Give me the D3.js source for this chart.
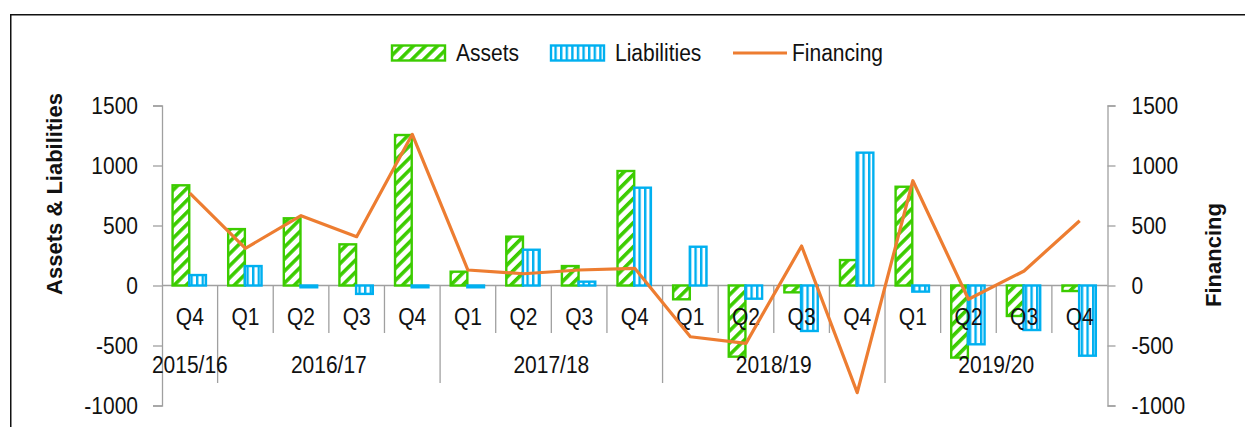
<!DOCTYPE html>
<html>
<head>
<meta charset="utf-8">
<script src="https://cdn.jsdelivr.net/npm/d3@7"></script>
<style>
  html, body { margin: 0; padding: 0; background: #fff; }
  svg { display: block; font-family: "Liberation Sans", Arial, sans-serif; }
</style>
</head>
<body>
<svg id="chart" width="1245" height="427"></svg>
<script>
// ---- data ----
const quarters = ["Q4","Q1","Q2","Q3","Q4","Q1","Q2","Q3","Q4","Q1","Q2","Q3","Q4","Q1","Q2","Q3","Q4"];
const years = ["2015/16","2016/17","2017/18","2018/19","2019/20"];
const yearCounts = [1, 4, 4, 4, 4];
const assets = [835, 470, 560, 343, 1254, 115, 407, 162, 954, -115, -593, -57, 212, 823, -601, -254, -46];
const liabilities = [87, 162, -15, -70, -15, -15, 298, 32, 815, 323, -110, -379, 1107, -51, -490, -371, -585];
const financing = [770, 310, 582, 407, 1260, 129, 98, 129, 143, -427, -482, 329, -893, 873, -115, 121, 540];
const yTicks = [-1000, -500, 0, 500, 1000, 1500];
const seriesNames = ["Assets", "Liabilities", "Financing"];

// ---- layout ----
const W = 1245, H = 427;
const plotL = 162, plotR = 1107.5, plotT = 105.5, plotB = 405.5;
const green = "#3ccc00", blue = "#00b0f0", orange = "#ed7d31", axisGray = "#a0a0a0";
const fontSize = 21;
const vs = 1.13; // vertical stretch of text glyphs

const svg = d3.select("#chart");

function txt(g, x0, y0, s, opts = {}) {
  return g.append("text")
    .attr("transform", `translate(${x0},${y0}) scale(1,${vs})`)
    .attr("text-anchor", opts.anchor || "start")
    .attr("font-size", opts.size || fontSize)
    .attr("font-weight", opts.weight || "normal")
    .attr("fill", "#111").text(s);
}

// border
svg.append("rect").attr("x", 10.75).attr("y", 14.75).attr("width", W).attr("height", H)
  .attr("fill", "none").attr("stroke", "#111").attr("stroke-width", 1.5);

// patterns
const defs = svg.append("defs");
const pA = defs.append("pattern").attr("id", "hatchA").attr("patternUnits", "userSpaceOnUse")
  .attr("width", 8.5).attr("height", 8.5).attr("patternTransform", "rotate(45)");
pA.append("rect").attr("width", 8.5).attr("height", 8.5).attr("fill", "#fff");
pA.append("rect").attr("x", 0).attr("width", 3.6).attr("height", 8.5).attr("fill", green);

const pL = defs.append("pattern").attr("id", "hatchL").attr("patternUnits", "userSpaceOnUse")
  .attr("width", 5.6).attr("height", 10);
pL.append("rect").attr("width", 5.6).attr("height", 10).attr("fill", "#fff");
pL.append("rect").attr("x", 0).attr("width", 2.4).attr("height", 10).attr("fill", blue);

// scales
const idx = d3.range(quarters.length);
const x = d3.scaleBand().domain(idx).range([plotL, plotR]).paddingInner(0).paddingOuter(0);
const bw = x.bandwidth();
const x1 = d3.scaleBand().domain(["a", "l"]).range([bw * 0.19, bw * 0.79]).padding(0);
const y = d3.scaleLinear().domain([-1000, 1500]).range([plotB, plotT]);
const y2 = d3.scaleLinear().domain([-1000, 1500]).range([plotB, plotT]);

function styleAxis(g) {
  g.select(".domain").attr("stroke", axisGray).attr("stroke-width", 1.3);
  g.selectAll(".tick line").attr("stroke", axisGray).attr("stroke-width", 1.3);
  g.selectAll(".tick text").attr("font-size", fontSize).attr("fill", "#111")
    .attr("font-family", "Liberation Sans, Arial, sans-serif")
    .attr("transform", `scale(1,${vs})`);
}

// left axis
const gL = svg.append("g").attr("transform", `translate(${plotL},0)`)
  .call(d3.axisLeft(y).tickValues(yTicks).tickSize(9).tickPadding(15).tickFormat(d => String(d)));
styleAxis(gL);

// right axis
const gR = svg.append("g").attr("transform", `translate(${plotR},0)`)
  .call(d3.axisRight(y2).tickValues(yTicks).tickSize(8).tickPadding(16).tickFormat(d => String(d)));
styleAxis(gR);

// zero line
svg.append("line").attr("x1", plotL).attr("x2", plotR).attr("y1", y(0)).attr("y2", y(0))
  .attr("stroke", axisGray).attr("stroke-width", 1.3);

// category separators
const yearBounds = [];
let acc = 0;
yearCounts.forEach(c => { acc += c; yearBounds.push(acc); });
idx.slice(1).forEach(i => {
  const isYear = yearBounds.includes(i);
  svg.append("line").attr("x1", x(i)).attr("x2", x(i))
    .attr("y1", y(0)).attr("y2", isYear ? 383 : 333)
    .attr("stroke", axisGray).attr("stroke-width", 1.3);
});

// bars
const barsG = svg.append("g");
barsG.selectAll("rect.a").data(idx).join("rect").attr("class", "a")
  .attr("x", i => x(i) + x1("a"))
  .attr("width", x1.bandwidth())
  .attr("y", i => Math.min(y(assets[i]), y(0)))
  .attr("height", i => Math.abs(y(assets[i]) - y(0)))
  .attr("fill", "url(#hatchA)").attr("stroke", green).attr("stroke-width", 2.4);
barsG.selectAll("rect.l").data(idx).join("rect").attr("class", "l")
  .attr("x", i => x(i) + x1("l"))
  .attr("width", x1.bandwidth())
  .attr("y", i => Math.min(y(liabilities[i]), y(0)))
  .attr("height", i => Math.abs(y(liabilities[i]) - y(0)))
  .attr("fill", "url(#hatchL)").attr("stroke", blue).attr("stroke-width", 2.4);

// quarter labels (drawn over bars)
const qg = svg.append("g");
idx.forEach(i => txt(qg, x(i) + bw / 2, 325, quarters[i], { anchor: "middle" }));

// year labels
const yg = svg.append("g");
let start = 0;
years.forEach((yr, k) => {
  const s = start, e = start + yearCounts[k];
  const cx = (x(s) + x(e - 1) + bw) / 2;
  txt(yg, cx, 373, yr, { anchor: "middle" });
  start = e;
});

// financing line
const line = d3.line().x(i => x(i) + bw / 2).y(i => y2(financing[i]));
svg.append("path").datum(idx).attr("d", line)
  .attr("fill", "none").attr("stroke", orange).attr("stroke-width", 3.2)
  .attr("stroke-linejoin", "round");

// axis titles
svg.append("text").attr("transform", "translate(62,194) rotate(-90)")
  .attr("text-anchor", "middle").attr("font-size", 22).attr("font-weight", "bold")
  .attr("fill", "#111").text("Assets & Liabilities");
svg.append("text").attr("transform", "translate(1221,255) rotate(-90)")
  .attr("text-anchor", "middle").attr("font-size", 22).attr("font-weight", "bold")
  .attr("fill", "#111").text("Financing");

// legend
const lg = svg.append("g");
lg.append("rect").attr("x", 392).attr("y", 45.5).attr("width", 53).attr("height", 15)
  .attr("fill", "url(#hatchA)").attr("stroke", green).attr("stroke-width", 2.4);
txt(lg, 456, 60.5, seriesNames[0]);
lg.append("rect").attr("x", 551).attr("y", 45.5).attr("width", 53).attr("height", 15)
  .attr("fill", "url(#hatchL)").attr("stroke", blue).attr("stroke-width", 2.4);
txt(lg, 615, 60.5, seriesNames[1]);
lg.append("line").attr("x1", 733).attr("x2", 787).attr("y1", 53).attr("y2", 53)
  .attr("stroke", orange).attr("stroke-width", 3.2);
txt(lg, 792, 60.5, seriesNames[2]);
</script>
</body>
</html>
